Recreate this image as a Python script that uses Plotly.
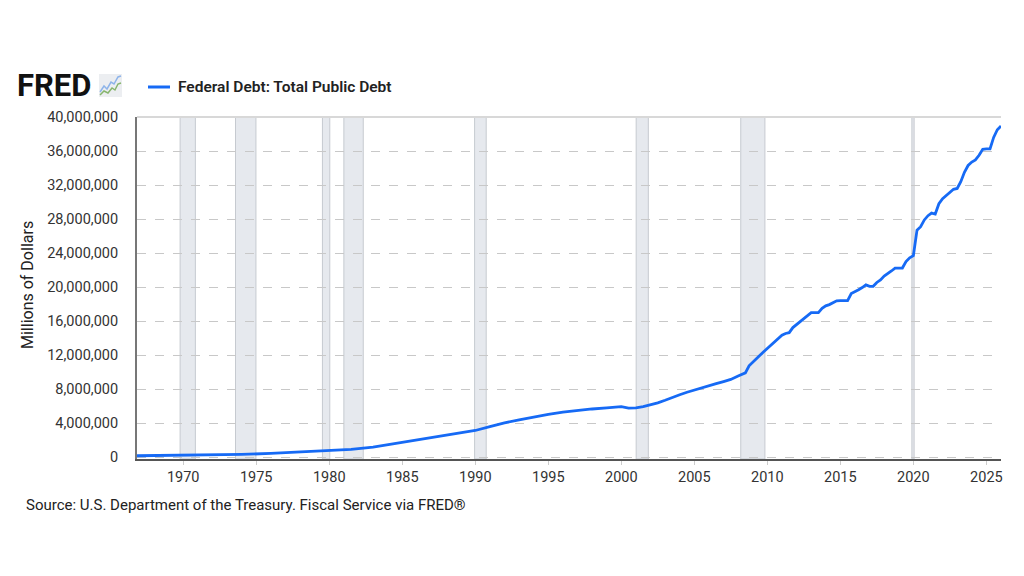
import plotly.graph_objects as go

# Federal Debt: Total Public Debt, millions of dollars
dates = [
    "1966-10-01", "1968-01-01", "1970-01-01", "1972-01-01", "1974-01-01",
    "1976-01-01", "1978-01-01", "1980-01-01", "1981-07-01", "1983-01-01",
    "1984-07-01", "1986-01-01", "1987-07-01", "1989-01-01", "1990-01-01",
    "1991-01-01", "1992-01-01", "1993-01-01", "1994-01-01", "1995-01-01",
    "1996-01-01", "1997-01-01", "1998-01-01", "1999-01-01", "1999-07-01",
    "2000-01-01", "2000-07-01", "2001-01-01", "2001-07-01", "2002-01-01",
    "2002-07-01", "2003-01-01", "2003-07-01", "2004-01-01", "2004-07-01",
    "2005-01-01", "2005-07-01", "2006-01-01", "2006-07-01", "2007-01-01",
    "2007-07-01", "2008-01-01", "2008-04-01", "2008-07-01", "2008-10-01",
    "2009-01-01", "2009-04-01", "2009-07-01", "2009-10-01", "2010-01-01",
    "2010-04-01", "2010-07-01", "2010-10-01", "2011-01-01", "2011-04-01",
    "2011-07-01", "2011-10-01", "2012-01-01", "2012-04-01", "2012-07-01",
    "2012-10-01", "2013-01-01", "2013-04-01", "2013-07-01", "2013-10-01",
    "2014-01-01", "2014-04-01", "2014-07-01", "2014-10-01", "2015-01-01",
    "2015-04-01", "2015-07-01", "2015-10-01", "2016-01-01", "2016-04-01",
    "2016-07-01", "2016-10-01", "2017-01-01", "2017-04-01", "2017-07-01",
    "2017-10-01", "2018-01-01", "2018-04-01", "2018-07-01", "2018-10-01",
    "2019-01-01", "2019-04-01", "2019-07-01", "2019-10-01", "2020-01-01",
    "2020-04-01", "2020-07-01", "2020-10-01", "2021-01-01", "2021-04-01",
    "2021-07-01", "2021-10-01", "2022-01-01", "2022-04-01", "2022-07-01",
    "2022-10-01", "2023-01-01", "2023-04-01", "2023-07-01", "2023-10-01",
    "2024-01-01", "2024-04-01", "2024-07-01", "2024-10-01", "2025-01-01",
    "2025-04-01", "2025-07-01", "2025-10-01", "2026-01-01",
]
debt = [
    180000, 200000, 230000, 280000, 340000,
    460000, 610000, 760000, 930000, 1200000,
    1620000, 2000000, 2380000, 2800000, 3150000,
    3600000, 4050000, 4400000, 4750000, 5050000,
    5300000, 5520000, 5680000, 5800000, 5880000,
    5950000, 5780000, 5800000, 5950000, 6150000,
    6400000, 6700000, 7050000, 7350000, 7650000,
    7920000, 8150000, 8450000, 8650000, 8900000,
    9150000, 9550000, 9750000, 9920000, 10750000,
    11200000, 11600000, 12000000, 12400000, 12800000,
    13200000, 13600000, 14050000, 14350000, 14550000,
    14650000, 15250000, 15600000, 15950000, 16200000,
    16600000, 17000000, 17000000, 17000000, 17500000,
    17800000, 17950000, 18150000, 18400000, 18420000,
    18420000, 18420000, 19250000, 19450000, 19700000,
    19950000, 20270000, 20100000, 20100000, 20550000,
    20850000, 21300000, 21550000, 21900000, 22240000,
    22250000, 22250000, 23000000, 23450000, 23700000,
    26700000, 27100000, 27900000, 28400000, 28700000,
    28600000, 29800000, 30400000, 30800000, 31200000,
    31500000, 31600000, 32400000, 33500000, 34300000,
    34700000, 34950000, 35500000, 36200000, 36250000,
    36250000, 37600000, 38500000, 38950000,
]

# recession shading (start, end)
rec_start = ["1969-10-15", "1973-08-01", "1979-07-15", "1981-01-01",
             "1989-12-15", "2001-01-07", "2008-03-07", "2019-11-25"]
rec_end = ["1970-11-01", "1974-12-25", "1980-01-15", "1982-05-01",
           "1990-10-01", "2001-11-07", "2009-11-01", "2020-01-20"]

tick_years = ["1970", "1975", "1980", "1985", "1990", "1995",
              "2000", "2005", "2010", "2015", "2020", "2025"]

BLUE = "#166af5"
FONT = "Roboto"

# the page puts the figure 8px in from the window corner
OFF = 8
# plot box in window pixels
L, R, T, B = 137, 1001, 117, 459
W, H = 1016, 568


def px(x):
    return (x - L) / (R - L)


def py(y):
    return (B - y) / (B - T)


fig = go.Figure()
fig.add_trace(go.Scatter(
    x=dates, y=debt, mode="lines",
    line=dict(color=BLUE, width=2.8),
    showlegend=False,
))

shapes = []
for s, e in zip(rec_start, rec_end):
    shapes.append(dict(type="rect", xref="x", yref="paper", x0=s, x1=e, y0=0, y1=1,
                       fillcolor="rgba(222,226,232,0.75)",
                       line=dict(color="#c6cad0", width=1), layer="below"))

# top border of the plot
shapes.append(dict(type="line", xref="paper", yref="paper", x0=0, x1=1, y0=1, y1=1,
                   line=dict(color="#d8d8d8", width=2)))

# legend sample line
shapes.append(dict(type="line", xref="paper", yref="paper",
                   x0=px(148), x1=px(170), y0=py(87), y1=py(87),
                   line=dict(color=BLUE, width=3)))

# small FRED chart icon
shapes.append(dict(type="rect", xref="paper", yref="paper",
                   x0=px(99), x1=px(122), y0=py(97), y1=py(74),
                   fillcolor="#eceef1", line=dict(width=0)))
blue_pts = [(100, 92), (104, 86), (107, 89), (111, 82), (114, 84), (118, 77), (121, 76)]
green_pts = [(100, 95), (104, 91), (108, 93), (112, 88), (115, 90), (118, 84), (121, 83)]
for pts, col in [(blue_pts, "#8eb4ea"), (green_pts, "#87b56d")]:
    path = "M " + " L ".join(f"{px(a):.4f},{py(b):.4f}" for a, b in pts)
    shapes.append(dict(type="path", xref="paper", yref="paper", path=path,
                       line=dict(color=col, width=1.5)))

annotations = [
    dict(text="<b>FRED</b>", xref="paper", yref="paper", x=px(15), y=py(85),
         xanchor="left", yanchor="middle", showarrow=False,
         font=dict(family="Roboto", size=31, color="#111", weight=900)),
    dict(text="Federal Debt: Total Public Debt", xref="paper", yref="paper",
         x=px(176), y=py(87), xanchor="left", yanchor="middle", showarrow=False,
         font=dict(family=FONT, size=15.5, color="#222", weight=600)),
    dict(text="Millions of Dollars", xref="paper", yref="paper",
         x=px(27), y=py(285), xanchor="center", yanchor="middle", textangle=-90,
         showarrow=False, font=dict(family=FONT, size=16, color="#222")),
    dict(text="Source: U.S. Department of the Treasury. Fiscal Service via FRED®",
         xref="paper", yref="paper", x=px(24), y=py(505), xanchor="left",
         yanchor="middle", showarrow=False,
         font=dict(family=FONT, size=15, color="#222")),
]

fig.update_layout(
    width=W, height=H,
    margin=dict(l=L - OFF, r=W - (R - OFF), t=T - OFF, b=H - (B - OFF)),
    paper_bgcolor="white", plot_bgcolor="white",
    font=dict(family=FONT, size=14, color="#333"),
    shapes=shapes, annotations=annotations,
    xaxis=dict(
        type="date", range=["1966-11-02", "2026-01-01"],
        tickvals=[y + "-01-01" for y in tick_years], ticktext=tick_years,
        showgrid=False, zeroline=False,
        showline=True, linecolor="#555", linewidth=2,
        ticks="outside", ticklen=4, tickcolor="#ccc",
        tickfont=dict(size=14.5, color="#333"),
    ),
    yaxis=dict(
        range=[-200000, 40000000], tick0=0, dtick=4000000, tickformat=",d",
        showgrid=True, gridcolor="#c8c8c8", griddash="dash", gridwidth=1,
        zeroline=False, showline=True, linecolor="#777", linewidth=2,
        ticklabelstandoff=14, tickfont=dict(size=14.5, color="#333"),
    ),
)

fig.write_html("out.html")
